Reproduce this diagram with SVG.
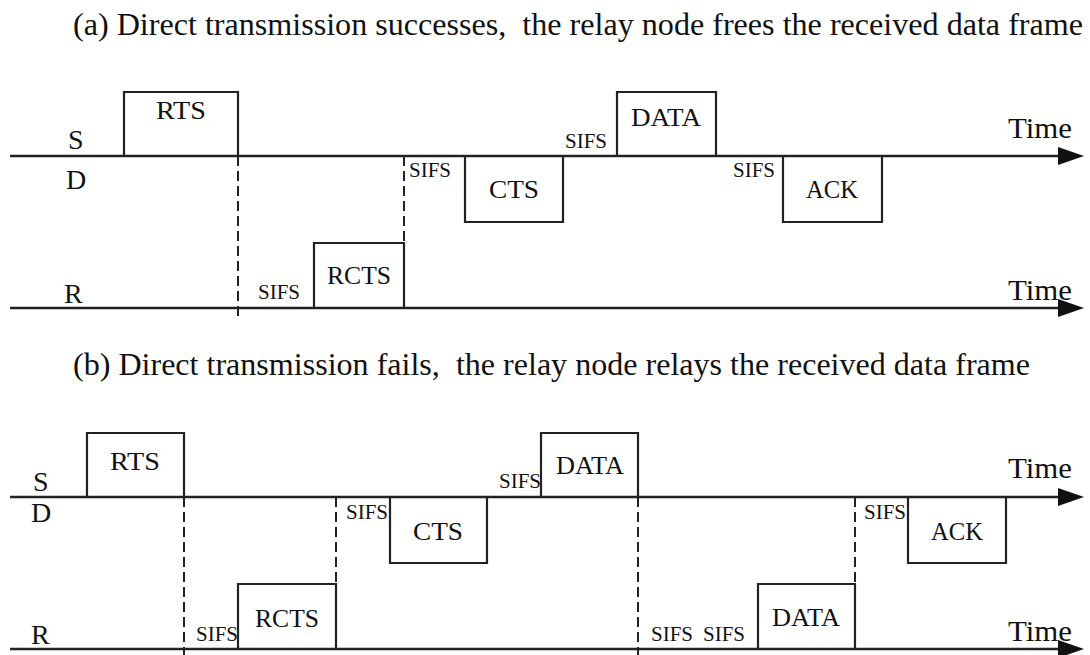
<svg xmlns="http://www.w3.org/2000/svg" width="1090" height="655" viewBox="0 0 1090 655" font-family="Liberation Serif, serif">
  <defs>
    <marker id="arrow" markerWidth="26" markerHeight="18" refX="0" refY="9" orient="auto" markerUnits="userSpaceOnUse">
      <path d="M0,0 L26,9 L0,18 Z" fill="#111"/>
    </marker>
    <style>
      text { font-family: 'Liberation Serif', serif; fill: #111; }
      .title { font-size: 31px; white-space: pre; }
      .frame { fill: none; stroke: #222; stroke-width: 2.2; }
      .axis { stroke: #222; stroke-width: 2.4; fill: none; }
      .dash { stroke: #222; stroke-width: 2; stroke-dasharray: 10 5; fill: none; }
      .lbl { font-size: 26px; text-anchor: middle; }
      .node { font-size: 28px; }
      .sifs { font-size: 20px; }
      .time { font-size: 30px; }
    </style>
  </defs>
  <rect width="1090" height="655" fill="#ffffff"/>

  <!-- Panel (a) -->
  <text class="title" xml:space="preserve" x="73" y="35" textLength="1010" lengthAdjust="spacingAndGlyphs">(a) Direct transmission successes,  the relay node frees the received data frame</text>

  <g id="a-axes">
    <line class="axis" x1="10" y1="156" x2="1058" y2="156" marker-end="url(#arrow)"/>
    <line class="axis" x1="10" y1="308" x2="1058" y2="308" marker-end="url(#arrow)"/>
    <text class="node" x="68" y="149">S</text>
    <text class="node" x="66" y="189">D</text>
    <text class="node" x="64" y="303">R</text>
    <text class="time" x="1008" y="138" textLength="64" lengthAdjust="spacingAndGlyphs">Time</text>
    <text class="time" x="1008" y="300" textLength="64" lengthAdjust="spacingAndGlyphs">Time</text>
  </g>

  <g id="a-connectors">
    <line class="dash" x1="238" y1="156" x2="238" y2="316"/>
    <line class="dash" x1="404" y1="156" x2="404" y2="243"/>
  </g>

  <g id="a-rts">
    <path class="frame" d="M124,156 V92 H238 V156"/>
    <text class="lbl" x="181" y="119" textLength="50" lengthAdjust="spacingAndGlyphs">RTS</text>
  </g>
  <g id="a-rcts">
    <path class="frame" d="M314,308 V243 H404 V308"/>
    <text class="lbl" x="359" y="284" textLength="64" lengthAdjust="spacingAndGlyphs">RCTS</text>
    <text class="sifs" x="258" y="299" textLength="42" lengthAdjust="spacingAndGlyphs">SIFS</text>
  </g>
  <g id="a-cts">
    <path class="frame" d="M465,156 V222 H563 V156"/>
    <text class="lbl" x="514" y="198" textLength="50" lengthAdjust="spacingAndGlyphs">CTS</text>
    <text class="sifs" x="409" y="177" textLength="42" lengthAdjust="spacingAndGlyphs">SIFS</text>
  </g>
  <g id="a-data">
    <path class="frame" d="M617,156 V92 H716 V156"/>
    <text class="lbl" x="666" y="126" textLength="70" lengthAdjust="spacingAndGlyphs">DATA</text>
    <text class="sifs" x="565" y="148" textLength="42" lengthAdjust="spacingAndGlyphs">SIFS</text>
  </g>
  <g id="a-ack">
    <path class="frame" d="M783,156 V222 H882 V156"/>
    <text class="lbl" x="832" y="198" textLength="52" lengthAdjust="spacingAndGlyphs">ACK</text>
    <text class="sifs" x="733" y="177" textLength="42" lengthAdjust="spacingAndGlyphs">SIFS</text>
  </g>

  <!-- Panel (b) -->
  <text class="title" xml:space="preserve" x="73" y="375" textLength="957" lengthAdjust="spacingAndGlyphs">(b) Direct transmission fails,  the relay node relays the received data frame</text>

  <g id="b-axes">
    <line class="axis" x1="10" y1="497" x2="1058" y2="497" marker-end="url(#arrow)"/>
    <line class="axis" x1="10" y1="649" x2="1058" y2="649" marker-end="url(#arrow)"/>
    <text class="node" x="33" y="491">S</text>
    <text class="node" x="31" y="522">D</text>
    <text class="node" x="31" y="644">R</text>
    <text class="time" x="1008" y="478" textLength="64" lengthAdjust="spacingAndGlyphs">Time</text>
    <text class="time" x="1008" y="641" textLength="64" lengthAdjust="spacingAndGlyphs">Time</text>
  </g>

  <g id="b-connectors">
    <line class="dash" x1="184" y1="497" x2="184" y2="655"/>
    <line class="dash" x1="336" y1="497" x2="336" y2="584"/>
    <line class="dash" x1="638" y1="497" x2="638" y2="655"/>
    <line class="dash" x1="855" y1="497" x2="855" y2="584"/>
  </g>

  <g id="b-rts">
    <path class="frame" d="M87,497 V433 H184 V497"/>
    <text class="lbl" x="135" y="470" textLength="50" lengthAdjust="spacingAndGlyphs">RTS</text>
  </g>
  <g id="b-rcts">
    <path class="frame" d="M238,649 V584 H336 V649"/>
    <text class="lbl" x="287" y="627" textLength="64" lengthAdjust="spacingAndGlyphs">RCTS</text>
    <text class="sifs" x="196" y="641" textLength="42" lengthAdjust="spacingAndGlyphs">SIFS</text>
  </g>
  <g id="b-cts">
    <path class="frame" d="M390,497 V563 H487 V497"/>
    <text class="lbl" x="438" y="540" textLength="50" lengthAdjust="spacingAndGlyphs">CTS</text>
    <text class="sifs" x="346" y="519" textLength="42" lengthAdjust="spacingAndGlyphs">SIFS</text>
  </g>
  <g id="b-data">
    <path class="frame" d="M541,497 V433 H638 V497"/>
    <text class="lbl" x="590" y="474" textLength="68" lengthAdjust="spacingAndGlyphs">DATA</text>
    <text class="sifs" x="499" y="488" textLength="42" lengthAdjust="spacingAndGlyphs">SIFS</text>
  </g>
  <g id="b-relay-data">
    <path class="frame" d="M758,649 V584 H855 V649"/>
    <text class="lbl" x="806" y="626" textLength="68" lengthAdjust="spacingAndGlyphs">DATA</text>
    <text class="sifs" x="651" y="641" textLength="42" lengthAdjust="spacingAndGlyphs">SIFS</text>
    <text class="sifs" x="703" y="641" textLength="42" lengthAdjust="spacingAndGlyphs">SIFS</text>
  </g>
  <g id="b-ack">
    <path class="frame" d="M908,497 V563 H1006 V497"/>
    <text class="lbl" x="957" y="540" textLength="52" lengthAdjust="spacingAndGlyphs">ACK</text>
    <text class="sifs" x="864" y="519" textLength="42" lengthAdjust="spacingAndGlyphs">SIFS</text>
  </g>
</svg>
